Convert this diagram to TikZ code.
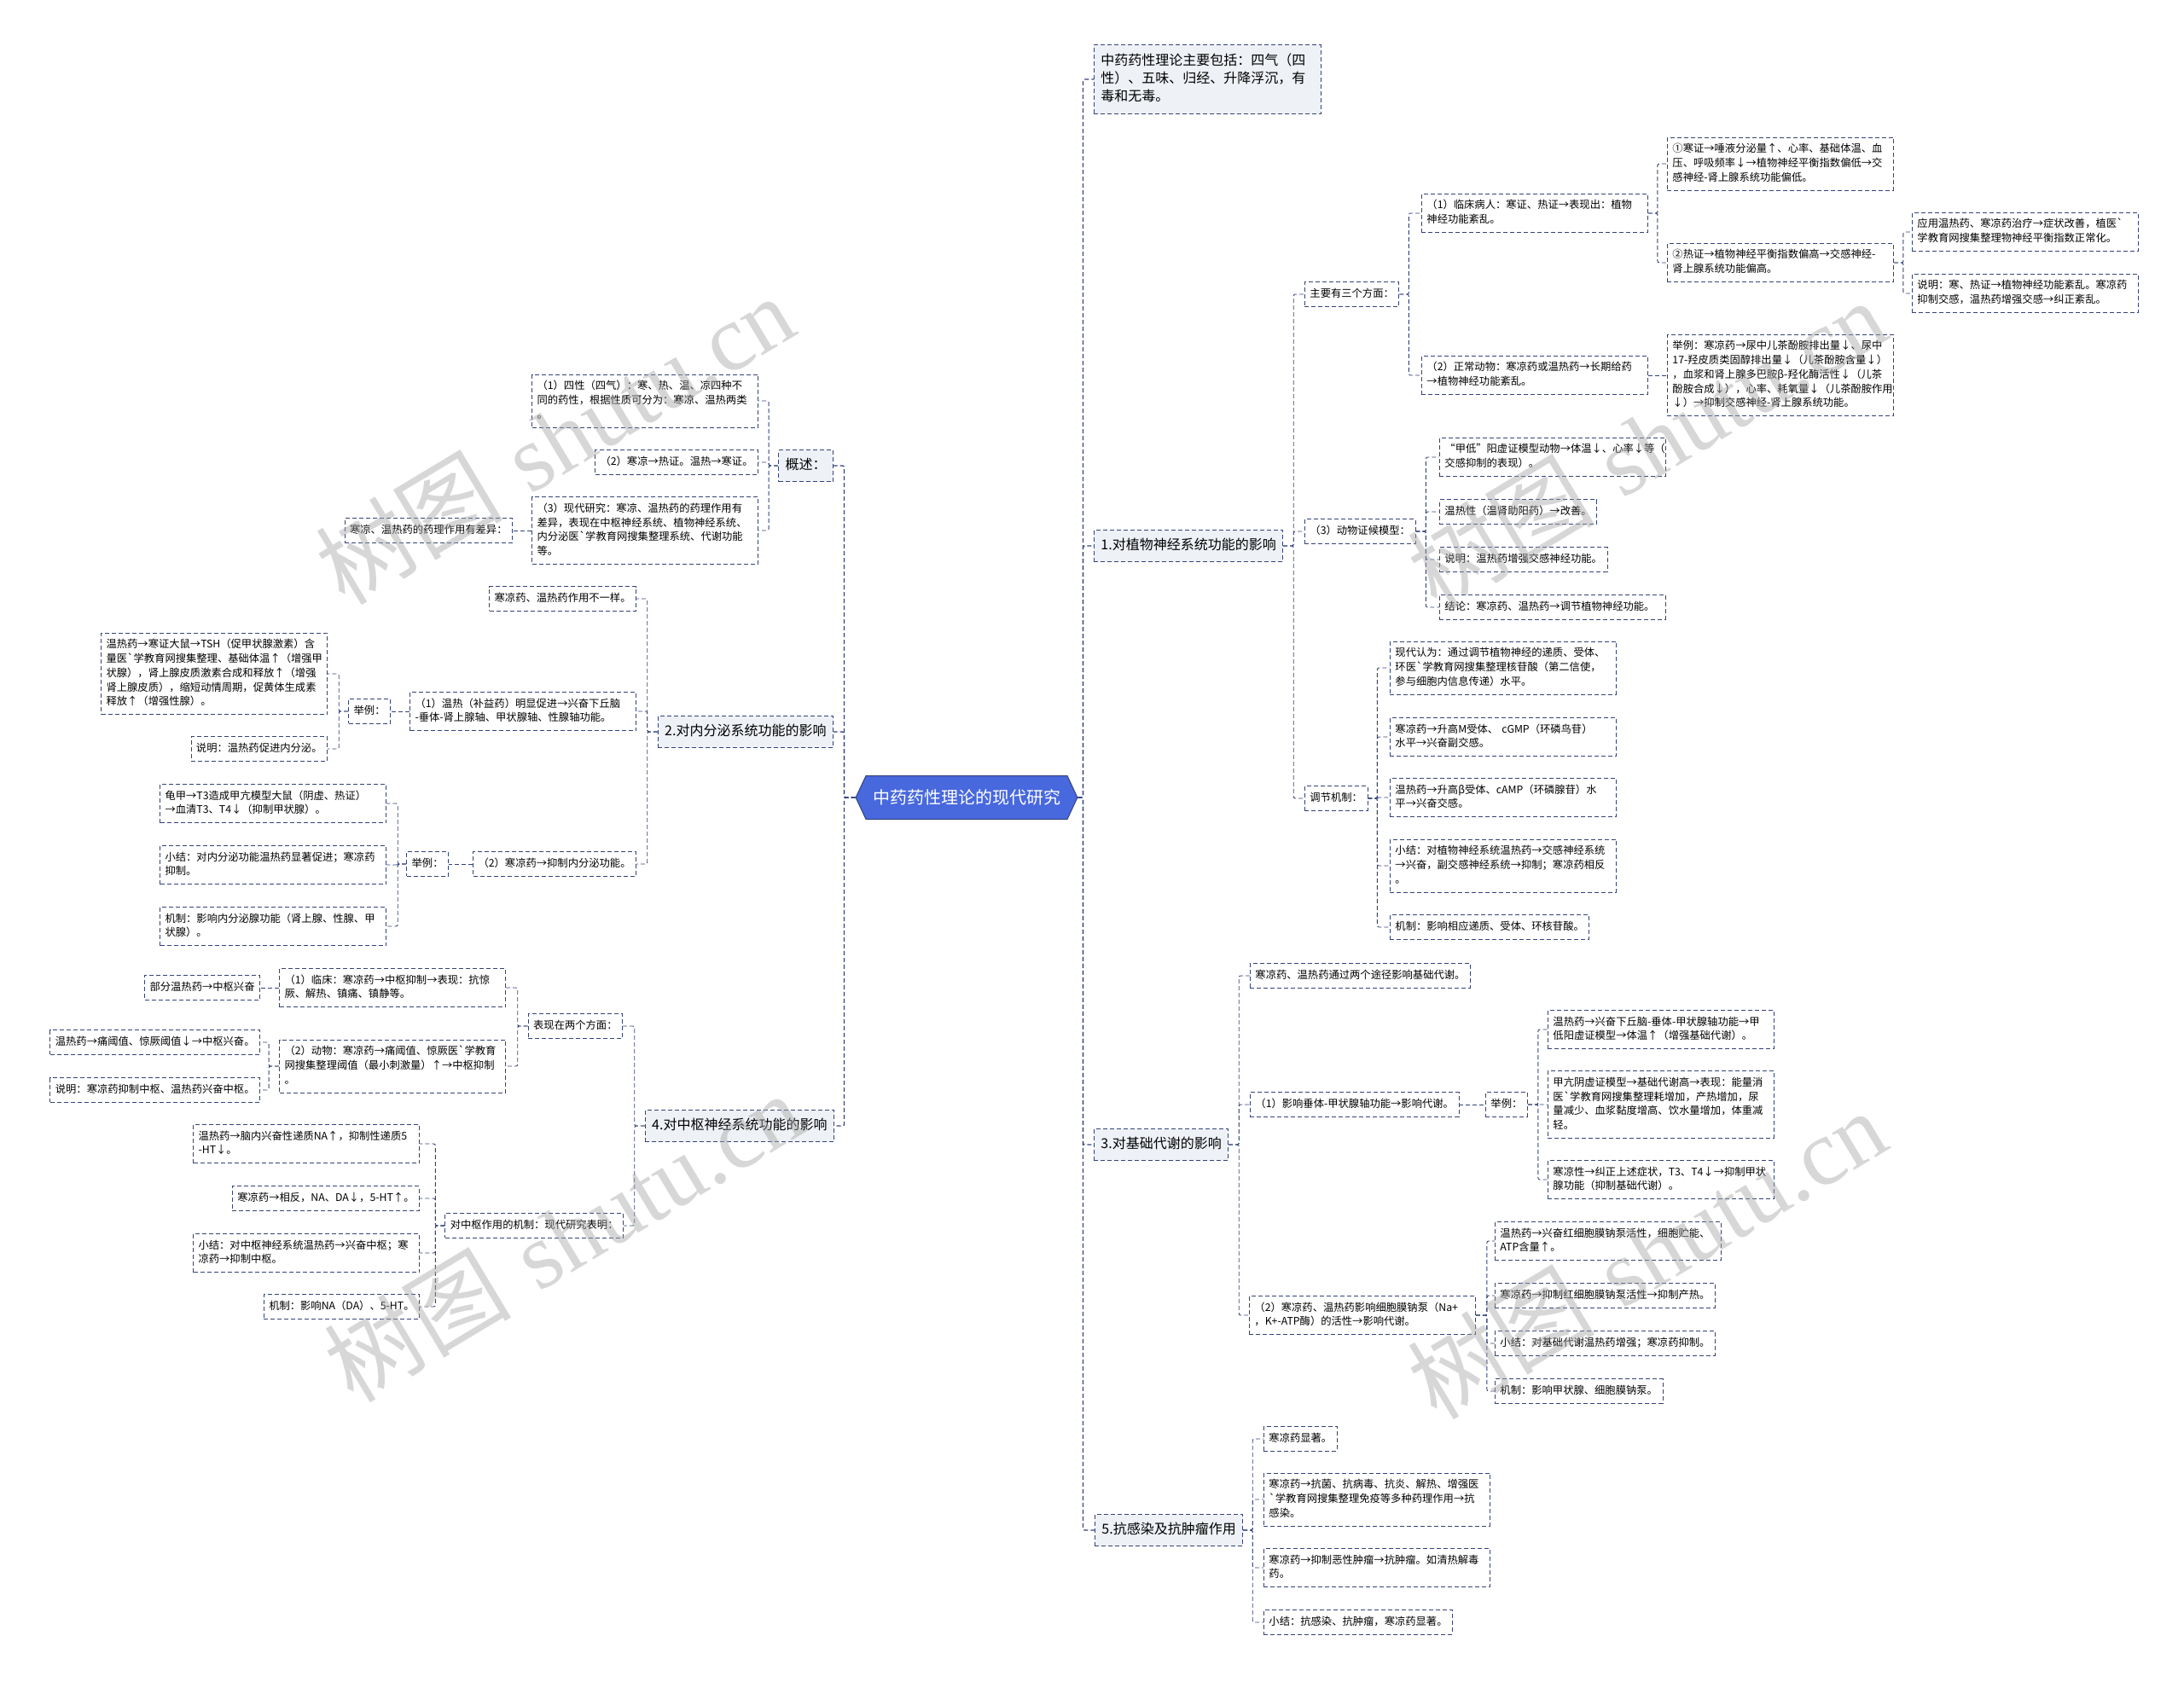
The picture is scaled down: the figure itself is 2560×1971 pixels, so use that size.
\documentclass[tikz,border=0pt]{standalone}
\usepackage{fontspec}
\newfontfamily\cjk{Noto Sans CJK SC}
\newfontfamily\wmlatin{Liberation Serif}
\usetikzlibrary{shapes.symbols}
\definecolor{mapnavy}{RGB}{52,66,122}
\definecolor{mapblue}{RGB}{72,104,222}
\definecolor{maplight}{RGB}{238,241,246}

\begin{document}
\begin{tikzpicture}[x=1pt, y=-1pt,
    rootn/.style={signal, signal to=east and west, signal pointer angle=130, draw=mapnavy, fill=mapblue, text=white, font=\cjk\fontsize{20}{24}\selectfont, inner xsep=8pt, minimum height=51pt, line width=1pt},
    topic/.style={draw=mapnavy, dash pattern=on 5pt off 3pt, fill=maplight, font=\cjk\fontsize{16}{21}\selectfont, inner xsep=8pt, inner ysep=8pt, align=left, line width=0.9pt, execute at begin node=\strut, execute at end node=\strut},
    leaf/.style={draw=mapnavy, dash pattern=on 5pt off 3pt, fill=white, font=\cjk\fontsize{12.3}{16.7}\selectfont, inner xsep=6pt, inner ysep=6pt, align=left, line width=0.9pt, execute at begin node=\strut, execute at end node=\strut},
    wide/.style={text width=253pt},
    conn/.style={draw=mapnavy, dash pattern=on 5pt off 3pt, line width=0.9pt, rounded corners=2pt},
    trunk/.style={conn, line width=1.3pt},
    wm/.style={font=\fontsize{110}{120}\selectfont, text=black!35, opacity=0.45, rotate=31}
  ]
  \useasboundingbox (0,0) rectangle (2560,1971);

  \node[rootn] (root) at (1133,935) {中药药性理论的现代研究};

  % right: 1
  \node[topic, anchor=west, text width=250pt, inner ysep=9pt] (T0) at (1282,93) {中药药性理论主要包括：四气（四\\性）、五味、归经、升降浮沉，有\\毒和无毒。};
  \node[topic, anchor=west] (B1) at (1282,640) {1.对植物神经系统功能的影响};
  \node[leaf, anchor=west] (a) at (1529,345) {主要有三个方面：};
  \node[leaf, wide, anchor=west] (a1) at (1666,250) {（1）临床病人：寒证、热证→表现出：植物\\神经功能紊乱。};
  \node[leaf, wide, anchor=west] (a11) at (1954,192) {①寒证→唾液分泌量↑、心率、基础体温、血\\压、呼吸频率↓→植物神经平衡指数偏低→交\\感神经-肾上腺系统功能偏低。};
  \node[leaf, wide, anchor=west] (a12) at (1954,308) {②热证→植物神经平衡指数偏高→交感神经-\\肾上腺系统功能偏高。};
  \node[leaf, wide, anchor=west] (a121) at (2241,272) {应用温热药、寒凉药治疗→症状改善，植医`\\学教育网搜集整理物神经平衡指数正常化。};
  \node[leaf, wide, anchor=west] (a122) at (2241,344) {说明：寒、热证→植物神经功能紊乱。寒凉药\\抑制交感，温热药增强交感→纠正紊乱。};
  \node[leaf, wide, anchor=west] (a2) at (1666,440) {（2）正常动物：寒凉药或温热药→长期给药\\→植物神经功能紊乱。};
  \node[leaf, wide, anchor=west] (a21) at (1954,440) {举例：寒凉药→尿中儿茶酚胺排出量↓、尿中\\17-羟皮质类固醇排出量↓（儿茶酚胺含量↓）\\，血浆和肾上腺多巴胺β-羟化酶活性↓（儿茶\\酚胺合成↓），心率、耗氧量↓（儿茶酚胺作用\\↓）→抑制交感神经-肾上腺系统功能。};
  \node[leaf, anchor=west] (b) at (1529,623) {（3）动物证候模型：};
  \node[leaf, wide, anchor=west] (b1) at (1687,536) {“甲低”阳虚证模型动物→体温↓、心率↓等（\\交感抑制的表现）。};
  \node[leaf, anchor=west] (b2) at (1687,600) {温热性（温肾助阳药）→改善。};
  \node[leaf, anchor=west] (b3) at (1687,656) {说明：温热药增强交感神经功能。};
  \node[leaf, wide, anchor=west] (b4) at (1687,712) {结论：寒凉药、温热药→调节植物神经功能。};
  \node[leaf, anchor=west] (c) at (1529,936) {调节机制：};
  \node[leaf, wide, anchor=west] (c1) at (1629,783) {现代认为：通过调节植物神经的递质、受体、\\环医`学教育网搜集整理核苷酸（第二信使，\\参与细胞内信息传递）水平。};
  \node[leaf, wide, anchor=west] (c2) at (1629,864) {寒凉药→升高M受体、 cGMP（环磷鸟苷）\\水平→兴奋副交感。};
  \node[leaf, wide, anchor=west] (c3) at (1629,935) {温热药→升高β受体、cAMP（环磷腺苷）水\\平→兴奋交感。};
  \node[leaf, wide, anchor=west] (c4) at (1629,1015) {小结：对植物神经系统温热药→交感神经系统\\→兴奋，副交感神经系统→抑制；寒凉药相反\\。};
  \node[leaf, anchor=west] (c5) at (1629,1087) {机制：影响相应递质、受体、环核苷酸。};

  % right: 3
  \node[topic, anchor=west] (B3) at (1282,1342) {3.对基础代谢的影响};
  \node[leaf, anchor=west] (d) at (1465,1144) {寒凉药、温热药通过两个途径影响基础代谢。};
  \node[leaf, anchor=west] (e) at (1465,1295) {（1）影响垂体-甲状腺轴功能→影响代谢。};
  \node[leaf, anchor=west] (e1) at (1741,1295) {举例：};
  \node[leaf, wide, anchor=west] (e11) at (1814,1207) {温热药→兴奋下丘脑-垂体-甲状腺轴功能→甲\\低阳虚证模型→体温↑（增强基础代谢）。};
  \node[leaf, wide, anchor=west] (e12) at (1814,1295) {甲亢阴虚证模型→基础代谢高→表现：能量消\\医`学教育网搜集整理耗增加，产热增加，尿\\量减少、血浆黏度增高、饮水量增加，体重减\\轻。};
  \node[leaf, wide, anchor=west] (e13) at (1814,1383) {寒凉性→纠正上述症状，T3、T4↓→抑制甲状\\腺功能（抑制基础代谢）。};
  \node[leaf, wide, anchor=west] (f) at (1464,1542) {（2）寒凉药、温热药影响细胞膜钠泵（Na+\\，K+-ATP酶）的活性→影响代谢。};
  \node[leaf, wide, anchor=west] (f1) at (1752,1455) {温热药→兴奋红细胞膜钠泵活性，细胞贮能、\\ATP含量↑。};
  \node[leaf, anchor=west] (f2) at (1752,1519) {寒凉药→抑制红细胞膜钠泵活性→抑制产热。};
  \node[leaf, anchor=west] (f3) at (1752,1575) {小结：对基础代谢温热药增强；寒凉药抑制。};
  \node[leaf, anchor=west] (f4) at (1752,1631) {机制：影响甲状腺、细胞膜钠泵。};

  % right: 5
  \node[topic, anchor=west] (B5) at (1283,1794) {5.抗感染及抗肿瘤作用};
  \node[leaf, anchor=west] (g1) at (1481,1687) {寒凉药显著。};
  \node[leaf, wide, anchor=west] (g2) at (1481,1758) {寒凉药→抗菌、抗病毒、抗炎、解热、增强医\\`学教育网搜集整理免疫等多种药理作用→抗\\感染。};
  \node[leaf, wide, anchor=west] (g3) at (1481,1838) {寒凉药→抑制恶性肿瘤→抗肿瘤。如清热解毒\\药。};
  \node[leaf, anchor=west] (g4) at (1481,1902) {小结：抗感染、抗肿瘤，寒凉药显著。};

  % left: 概述
  \node[topic, anchor=east] (L1) at (977,546) {概述：};
  \node[leaf, wide, anchor=east] (h1) at (889,470) {（1）四性（四气）：寒、热、温、凉四种不\\同的药性，根据性质可分为：寒凉、温热两类\\。};
  \node[leaf, anchor=east] (h2) at (889,542) {（2）寒凉→热证。温热→寒证。};
  \node[leaf, wide, anchor=east] (h3) at (889,622) {（3）现代研究：寒凉、温热药的药理作用有\\差异，表现在中枢神经系统、植物神经系统、\\内分泌医`学教育网搜集整理系统、代谢功能\\等。};
  \node[leaf, anchor=east] (h31) at (601,622) {寒凉、温热药的药理作用有差异：};

  % left: 2
  \node[topic, anchor=east] (L2) at (977,858) {2.对内分泌系统功能的影响};
  \node[leaf, anchor=east] (i0) at (746,702) {寒凉药、温热药作用不一样。};
  \node[leaf, wide, anchor=east] (i1) at (746,834) {（1）温热（补益药）明显促进→兴奋下丘脑\\-垂体-肾上腺轴、甲状腺轴、性腺轴功能。};
  \node[leaf, anchor=east] (i11) at (458,834) {举例：};
  \node[leaf, wide, anchor=east] (i111) at (384,790) {温热药→寒证大鼠→TSH（促甲状腺激素）含\\量医`学教育网搜集整理、基础体温↑（增强甲\\状腺），肾上腺皮质激素合成和释放↑（增强\\肾上腺皮质），缩短动情周期，促黄体生成素\\释放↑（增强性腺）。};
  \node[leaf, anchor=east] (i112) at (384,878) {说明：温热药促进内分泌。};
  \node[leaf, anchor=east] (i2) at (746,1013) {（2）寒凉药→抑制内分泌功能。};
  \node[leaf, anchor=east] (i21) at (526,1013) {举例：};
  \node[leaf, wide, anchor=east] (i211) at (453,942) {龟甲→T3造成甲亢模型大鼠（阴虚、热证）\\→血清T3、T4↓（抑制甲状腺）。};
  \node[leaf, wide, anchor=east] (i212) at (453,1014) {小结：对内分泌功能温热药显著促进；寒凉药\\抑制。};
  \node[leaf, wide, anchor=east] (i213) at (453,1086) {机制：影响内分泌腺功能（肾上腺、性腺、甲\\状腺）。};

  % left: 4
  \node[topic, anchor=east] (L4) at (978,1320) {4.对中枢神经系统功能的影响};
  \node[leaf, anchor=east] (j) at (730,1203) {表现在两个方面：};
  \node[leaf, wide, anchor=east] (j1) at (593,1158) {（1）临床：寒凉药→中枢抑制→表现：抗惊\\厥、解热、镇痛、镇静等。};
  \node[leaf, anchor=east] (j11) at (305,1158) {部分温热药→中枢兴奋};
  \node[leaf, wide, anchor=east] (j2) at (593,1250) {（2）动物：寒凉药→痛阈值、惊厥医`学教育\\网搜集整理阈值（最小刺激量）↑→中枢抑制\\。};
  \node[leaf, anchor=east] (j21) at (305,1222) {温热药→痛阈值、惊厥阈值↓→中枢兴奋。};
  \node[leaf, anchor=east] (j22) at (305,1278) {说明：寒凉药抑制中枢、温热药兴奋中枢。};
  \node[leaf, anchor=east] (k) at (731,1437) {对中枢作用的机制：现代研究表明：};
  \node[leaf, wide, anchor=east] (k1) at (492,1341) {温热药→脑内兴奋性递质NA↑，抑制性递质5\\-HT↓。};
  \node[leaf, anchor=east] (k2) at (492,1405) {寒凉药→相反，NA、DA↓，5-HT↑。};
  \node[leaf, wide, anchor=east] (k3) at (492,1469) {小结：对中枢神经系统温热药→兴奋中枢；寒\\凉药→抑制中枢。};
  \node[leaf, anchor=east] (k4) at (492,1532) {机制：影响NA（DA）、5-HT。};

  % connectors, right
  \foreach \c in {T0,B1,B3,B5} { \draw[trunk] (root.east) -- ++(6,0) |- (\c.west); }
  \foreach \c in {a,b,c} { \draw[conn] (B1.east) -- ++(12,0) |- (\c.west); }
  \foreach \c in {a1,a2} { \draw[conn] (a.east) -- ++(11,0) |- (\c.west); }
  \foreach \c in {a11,a12} { \draw[conn] (a1.east) -- ++(11,0) |- (\c.west); }
  \foreach \c in {a121,a122} { \draw[conn] (a12.east) -- ++(11,0) |- (\c.west); }
  \draw[conn] (a2.east) -- (a21.west);
  \foreach \c in {b1,b2,b3,b4} { \draw[conn] (b.east) -- ++(12,0) |- (\c.west); }
  \foreach \c in {c1,c2,c3,c4,c5} { \draw[conn] (c.east) -- ++(11,0) |- (\c.west); }
  \foreach \c in {d,e,f} { \draw[conn] (B3.east) -- ++(12,0) |- (\c.west); }
  \draw[conn] (e.east) -- (e1.west);
  \foreach \c in {e11,e12,e13} { \draw[conn] (e1.east) -- ++(12,0) |- (\c.west); }
  \foreach \c in {f1,f2,f3,f4} { \draw[conn] (f.east) -- ++(13,0) |- (\c.west); }
  \foreach \c in {g1,g2,g3,g4} { \draw[conn] (B5.east) -- ++(11,0) |- (\c.west); }

  % connectors, left
  \foreach \c in {L1,L2,L4} { \draw[trunk] (root.west) -- ++(-13,0) |- (\c.east); }
  \foreach \c in {h1,h2,h3} { \draw[conn] (L1.west) -- ++(-11,0) |- (\c.east); }
  \draw[conn] (h3.west) -- (h31.east);
  \foreach \c in {i0,i1,i2} { \draw[conn] (L2.west) -- ++(-12,0) |- (\c.east); }
  \draw[conn] (i1.west) -- (i11.east);
  \foreach \c in {i111,i112} { \draw[conn] (i11.west) -- ++(-11,0) |- (\c.east); }
  \draw[conn] (i2.west) -- (i21.east);
  \foreach \c in {i211,i212,i213} { \draw[conn] (i21.west) -- ++(-10,0) |- (\c.east); }
  \foreach \c in {j,k} { \draw[conn] (L4.west) -- ++(-12,0) |- (\c.east); }
  \foreach \c in {j1,j2} { \draw[conn] (j.west) -- ++(-12,0) |- (\c.east); }
  \draw[conn] (j1.west) -- (j11.east);
  \foreach \c in {j21,j22} { \draw[conn] (j2.west) -- ++(-12,0) |- (\c.east); }
  \foreach \c in {k1,k2,k3,k4} { \draw[conn] (k.west) -- ++(-11,0) |- (\c.east); }

  % watermarks
  \node[wm] (wm1) at (650,515) {{\cjk 树图} {\wmlatin shutu.cn}};
  \node[wm] (wm2) at (660,1450) {{\cjk 树图} {\wmlatin shutu.cn}};
  \node[wm] (wm3) at (1930,520) {{\cjk 树图} {\wmlatin shutu.cn}};
  \node[wm] (wm4) at (1930,1470) {{\cjk 树图} {\wmlatin shutu.cn}};
\end{tikzpicture}
\end{document}
